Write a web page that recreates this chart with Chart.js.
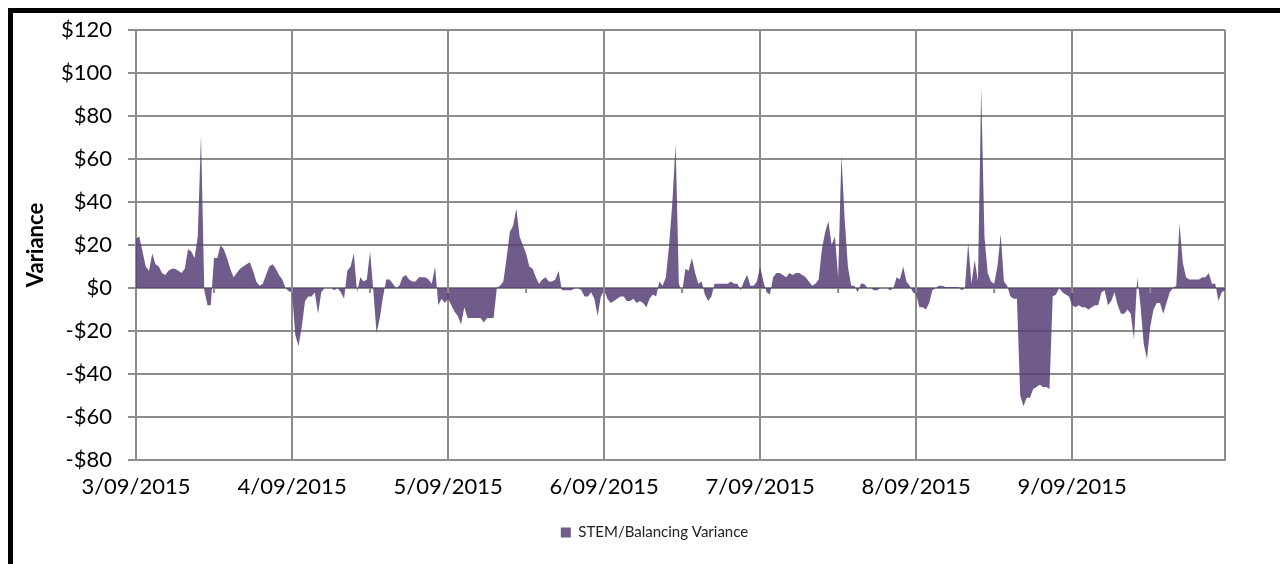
<!DOCTYPE html>
<html>
<head>
<meta charset="utf-8">
<script src="https://cdn.jsdelivr.net/npm/chart.js@4.4.1/dist/chart.umd.min.js"></script>
<style>
  html, body { margin: 0; padding: 0; background: #fff; }
  #wrap { position: relative; width: 1280px; height: 564px; overflow: hidden; }
  #frame { position: absolute; left: 8px; top: 8px; width: 1320px; height: 620px;
           border: 5px solid #000; pointer-events: none; }
  canvas { position: absolute; left: 0; top: 0; }
</style>
</head>
<body>
<div id="wrap">
  <canvas id="varianceChart" width="1280" height="564"></canvas>
  <div id="frame"></div>
</div>
<script>
// days on the axis, half-hourly intervals
var days = ['3/09/2015', '4/09/2015', '5/09/2015', '6/09/2015', '7/09/2015', '8/09/2015', '9/09/2015'];
var slotsPerDay = 48;

// STEM/Balancing variance ($) per half hour, one array per day
var day1 = [23, 24, 17, 10, 8, 16, 11, 10, 7, 6, 8, 9, 9, 8, 7, 9, 18, 17, 14, 24, 71, -1, -8, -8,
            14, 14, 20, 18, 14, 9, 5, 7, 9, 10, 11, 12, 8, 3, 1, 2, 6, 10, 11, 9, 6, 4, 0, -1.5];
var day2 = [-2, -22, -27, -18, -6, -4, -4, -2, -12, -2, 0, 0, 0, -1, 0, -2, -5, 8, 10, 16, -2, 5, 3, 4,
            17, -1, -21, -14, -4, 4, 4, 2, 0, 1, 5, 6, 4, 3, 3, 5, 5, 5, 4, 2, 10, -8, -5, -7];
var day3 = [-5, -8, -11, -13, -17, -9, -14, -14, -14, -14, -14, -16, -14, -14, -14, 0, 1, 3, 14, 26, 29, 37, 24, 20,
            16, 10, 9, 5, 2, 4, 5, 3, 3, 4, 8, -1, -1, -1, -1, 0, 0, -1, -4, -4, -2, -5, -13, -4];
var day4 = [-1, -5, -7, -6, -5, -4, -4, -6, -6, -5, -7, -6, -7, -9, -5, -3, -4, 3, 1, 5, 20, 40, 67, 2,
            -2, 9, 8, 14, 7, 2, 3, -3, -6, -4, 2, 2, 2, 2, 2, 3, 2, 2, -1, 3, 6, 1, 1, 3];
var day5 = [10, 3, -2, -3, 5, 7, 7, 6, 5, 7, 6, 7, 7, 6, 5, 3, 1, 2, 4, 18, 26, 31, 20, 24,
            5, 62, 32, 10, 1, 1, -2, 2, 2, 0, 0, -1, -1, 0, 0, 0, -1, 0, 5, 4, 10, 3, 1, -2];
var day6 = [-3, -9, -9, -10, -7, -1, 0, 1, 1, 0.5, 0.5, 0.5, 0.5, 0.5, -1, 0, 21, 2, 13, 3, 93, 24, 7, 3,
            2, 10, 25, 3, 1, -4, -5, -5, -50, -55, -51, -51, -47, -46, -45, -46, -46, -47, -4, -3, 0, -2, -3, -4];
var day7 = [-8, -9, -8, -9, -9, -10, -9, -8, -8, -2, -1, -8, -6, -2, -8, -12, -12, -10, -12, -24, 5, -8, -26, -33,
            -18, -10, -7, -7, -12, -7, -2, 0, 1, 30, 12, 5, 4, 4, 4, 4, 5, 5, 7, 2, 2, -6, -2, -1];

var yTicks = [-80, -60, -40, -20, 0, 20, 40, 60, 80, 100, 120];

var variance = [].concat(day1, day2, day3, day4, day5, day6, day7);

function pad(n) { return n < 10 ? '0' + n : '' + n; }
var labels = [];
days.forEach(function (d) {
    for (var s = 0; s < slotsPerDay; s++) {
        labels.push(d + ' ' + pad(Math.floor(s / 2)) + ':' + (s % 2 ? '30' : '00'));
    }
});

var gridColor = '#8c8c8c';
var fontFamily = 'Lato, "Open Sans", sans-serif';

// small tick marks where the category axis crosses $0
var zeroTicks = {
    id: 'zeroTicks',
    afterDatasetsDraw: function (chart) {
        var x = chart.scales.x, y = chart.scales.y, c = chart.ctx;
        var y0 = y.getPixelForValue(0);
        c.save();
        c.strokeStyle = gridColor;
        c.lineWidth = 2;
        for (var i = 0; i < labels.length; i += slotsPerDay / 2) {
            var px = x.getPixelForValue(i);
            c.beginPath();
            c.moveTo(px, y0);
            c.lineTo(px, y0 + 5);
            c.stroke();
        }
        c.restore();
    }
};

// legend sits a bit right of the canvas centre, as in the original
var legendShift = {
    id: 'legendShift',
    afterLayout: function (chart) {
        if (chart.legend) {
            chart.legend.left += 36;
            chart.legend.right += 36;
        }
    }
};

new Chart(document.getElementById('varianceChart').getContext('2d'), {
    type: 'line',
    data: {
        labels: labels,
        datasets: [{
            label: 'STEM/Balancing Variance',
            data: variance,
            fill: 'origin',
            backgroundColor: 'rgba(86,64,118,0.85)',
            borderColor: 'rgba(86,64,118,0.85)',
            borderWidth: 0,
            pointRadius: 0,
            tension: 0
        }]
    },
    options: {
        responsive: false,
        animation: false,
        devicePixelRatio: 1,
        layout: { padding: { left: 12, top: 30, right: 55, bottom: 14 } },
        plugins: {
            legend: {
                position: 'bottom',
                labels: {
                    boxWidth: 10, boxHeight: 10, padding: 10, color: '#222',
                    font: { family: fontFamily, size: 15 }
                }
            },
            tooltip: { enabled: false }
        },
        scales: {
            x: {
                type: 'category',
                offset: false,
                afterFit: function (scale) { scale.height = 55; },
                grid: {
                    color: function (ctx) {
                        var i = ctx.index;
                        return (i % slotsPerDay === 0 || i === labels.length - 1) ? gridColor : 'rgba(0,0,0,0)';
                    },
                    lineWidth: 2,
                    drawTicks: false
                },
                border: { display: true, color: gridColor, width: 2 },
                ticks: {
                    autoSkip: false,
                    maxRotation: 0,
                    padding: 14,
                    color: '#000',
                    font: { family: fontFamily, size: 22 },
                    callback: function (value, index) {
                        return index % slotsPerDay === 0 ? days[index / slotsPerDay] : '';
                    }
                }
            },
            y: {
                min: yTicks[0],
                max: yTicks[yTicks.length - 1],
                afterFit: function (scale) { scale.width = 124; },
                afterBuildTicks: function (scale) {
                    scale.ticks = yTicks.map(function (v) { return { value: v }; });
                },
                grid: { color: gridColor, lineWidth: 2, tickLength: 8 },
                border: { display: true, color: gridColor, width: 2 },
                ticks: {
                    padding: 16,
                    color: '#000',
                    font: { family: fontFamily, size: 22 },
                    callback: function (v) { return (v < 0 ? '-$' : '$') + Math.abs(v); }
                },
                title: {
                    display: true,
                    text: 'Variance',
                    color: '#000',
                    padding: { top: 11, bottom: 0 },
                    font: { family: fontFamily, size: 22, weight: 'bold' }
                }
            }
        }
    },
    plugins: [zeroTicks, legendShift]
});
</script>
</body>
</html>
